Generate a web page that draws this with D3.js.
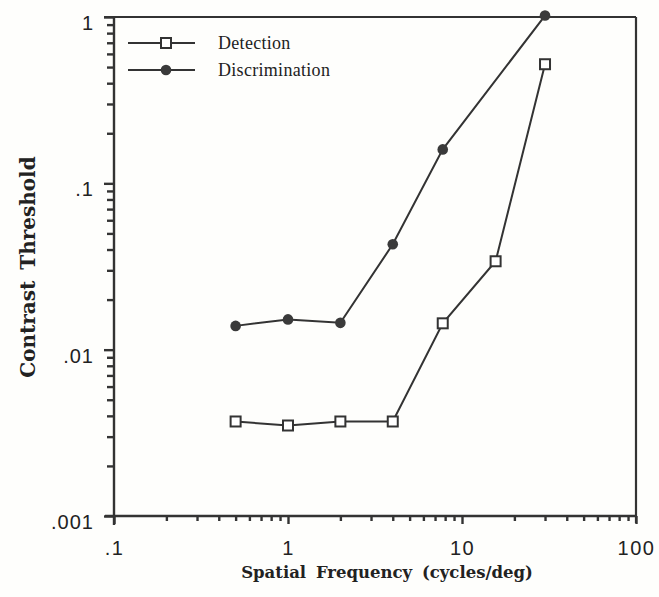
<!DOCTYPE html>
<html>
<head>
<meta charset="utf-8">
<script src="https://cdn.jsdelivr.net/npm/d3@7"></script>
<style>
  html, body { margin: 0; padding: 0; background: #fefefc; }
  svg { display: block; }
</style>
</head>
<body>
<script>
// ---- data ----
const frequencies = [0.5, 1, 2, 4, 7.75, 15.6, 30];
const detection = [0.0037, 0.0035, 0.0037, 0.0037, 0.0144, 0.034, 0.52];
const discrimFreq = [0.5, 1, 2, 4, 7.75, 30];
const discrimination = [0.0139, 0.0152, 0.0145, 0.043, 0.16, 1.02];
const seriesNames = ["Detection", "Discrimination"];
const xTickValues = [0.1, 1, 10, 100];
const xTickLabels = [".1", "1", "10", "100"];
const yTickValues = [0.001, 0.01, 0.1, 1];
const yTickLabels = [".001", ".01", ".1", "1"];
const minorMultipliers = [2, 3, 4, 5, 6, 7, 8, 9];
const xTitle = "Spatial Frequency (cycles/deg)";
const yTitle = "Contrast Threshold";

(function () {
const W = 659, H = 597;
const pL = 114, pR = 636, pT = 17, pB = 516;
const ink = "#333";

const svg = d3.select("body").append("svg").attr("width", W).attr("height", H);

const x = d3.scaleLog().domain([0.1, 100]).range([pL, pR]);
const y = d3.scaleLog().domain([0.001, 1]).range([pB, pT]);

const yMinor = [];
for (let i = 0; i < yTickValues.length - 1; i++)
  for (let j = 0; j < minorMultipliers.length; j++) yMinor.push(yTickValues[i] * minorMultipliers[j]);
const xMinor = [];
for (let i = 0; i < xTickValues.length - 1; i++)
  for (let j = 0; j < minorMultipliers.length; j++) xMinor.push(xTickValues[i] * minorMultipliers[j]);

// frame: top and right
svg.append("line").attr("x1", pL - 10).attr("x2", pR).attr("y1", pT).attr("y2", pT)
  .attr("stroke", ink).attr("stroke-width", 2.2);
svg.append("line").attr("x1", pR).attr("x2", pR).attr("y1", pT).attr("y2", pB + 7)
  .attr("stroke", ink).attr("stroke-width", 2.2);

// y axis: all ticks (major + minor) via d3.axis
const yAll = yTickValues.concat(yMinor);
const gyAxis = svg.append("g").attr("transform", `translate(${pL},0)`)
  .call(d3.axisLeft(y).tickValues(yAll).tickSizeOuter(0)
    .tickSizeInner(10).tickPadding(10)
    .tickFormat(d => { const i = yTickValues.indexOf(d); return i >= 0 ? yTickLabels[i] : ""; }));
gyAxis.select(".domain").attr("d", `M0,${pT}V${pB + 9}`).attr("stroke", ink).attr("stroke-width", 2.4);
gyAxis.selectAll(".tick line").attr("stroke", ink).attr("stroke-width", 2.4)
  .attr("x2", d => yTickValues.indexOf(d) >= 0 ? -10 : -7);
gyAxis.selectAll("text")
  .attr("font-family", "'Liberation Sans', Arial, sans-serif")
  .attr("font-size", 20).attr("fill", "#222").attr("letter-spacing", "1px")
  .attr("dy", "0.62em");

// x axis: all ticks
const xAll = xTickValues.concat(xMinor);
const gxAxis = svg.append("g").attr("transform", `translate(0,${pB})`)
  .call(d3.axisBottom(x).tickValues(xAll).tickSizeOuter(0)
    .tickSizeInner(8).tickPadding(17)
    .tickFormat(d => { const i = xTickValues.indexOf(d); return i >= 0 ? xTickLabels[i] : ""; }));
gxAxis.select(".domain").attr("d", `M${pL - 9},0H${pR}`).attr("stroke", ink).attr("stroke-width", 2.4);
gxAxis.selectAll(".tick line").attr("stroke", ink).attr("stroke-width", 2.4)
  .attr("y2", d => xTickValues.indexOf(d) >= 0 ? 8 : 5);
gxAxis.selectAll("text")
  .attr("font-family", "'Liberation Sans', Arial, sans-serif")
  .attr("font-size", 20).attr("fill", "#222").attr("letter-spacing", "1.5px");

// titles
svg.append("text").attr("x", 387).attr("y", 578).attr("text-anchor", "middle")
  .attr("font-family", "'DejaVu Serif', serif").attr("font-weight", "bold")
  .attr("font-size", 16.5).attr("word-spacing", "4px").attr("fill", "#222").text(xTitle);
svg.append("text").attr("transform", "translate(35,267) rotate(-90)").attr("text-anchor", "middle")
  .attr("font-family", "'DejaVu Serif', serif").attr("font-weight", "bold")
  .attr("font-size", 20).attr("word-spacing", "4px").attr("fill", "#222").text(yTitle);

// lines
const line = d3.line().x(d => x(d[0])).y(d => y(d[1]));
const detPts = frequencies.map((f, i) => [f, detection[i]]);
const disPts = discrimFreq.map((f, i) => [f, discrimination[i]]);
svg.append("path").attr("d", line(disPts)).attr("fill", "none").attr("stroke", ink).attr("stroke-width", 2);
svg.append("path").attr("d", line(detPts)).attr("fill", "none").attr("stroke", ink).attr("stroke-width", 2);

svg.append("g").selectAll("circle").data(disPts).enter().append("circle")
  .attr("cx", d => x(d[0])).attr("cy", d => y(d[1])).attr("r", 5.3).attr("fill", "#3a3a3a");
svg.append("g").selectAll("rect").data(detPts).enter().append("rect")
  .attr("x", d => x(d[0]) - 5).attr("y", d => y(d[1]) - 5).attr("width", 10).attr("height", 10)
  .attr("fill", "#fff").attr("stroke", ink).attr("stroke-width", 2);

// legend
const lg = svg.append("g");
[0, 1].forEach(i => {
  const ly = 43 + i * 27;
  lg.append("line").attr("x1", 128).attr("x2", 195).attr("y1", ly).attr("y2", ly)
    .attr("stroke", ink).attr("stroke-width", 2);
  if (i === 0) {
    lg.append("rect").attr("x", 161).attr("y", ly - 5).attr("width", 10).attr("height", 10)
      .attr("fill", "#fff").attr("stroke", ink).attr("stroke-width", 2);
  } else {
    lg.append("circle").attr("cx", 166).attr("cy", ly).attr("r", 5.3).attr("fill", "#3a3a3a");
  }
  lg.append("text").attr("x", 218).attr("y", ly + 6)
    .attr("font-family", "'Liberation Serif', 'Times New Roman', serif")
    .attr("font-size", 18).attr("letter-spacing", "0.3px").attr("fill", "#222").text(seriesNames[i]);
});
})();
</script>
</body>
</html>
